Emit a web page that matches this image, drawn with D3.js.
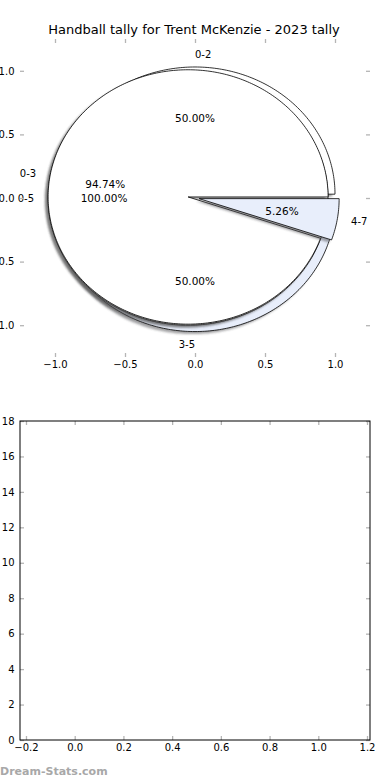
<!DOCTYPE html>
<html>
<head>
<meta charset="utf-8">
<script src="https://cdn.jsdelivr.net/npm/d3@7"></script>
<style>
  body { margin: 0; background: #fff; }
  svg { display: block; font-family: "DejaVu Sans", sans-serif; }
</style>
</head>
<body>
<svg id="chart" width="390" height="780"></svg>
<script>
const chartTitle = "Handball tally for Trent McKenzie - 2023 tally";

// three pies stacked on the same axes
const halfLabels = ["0-2", "3-5"];
const halfValues = [1, 1];
const halfExplode = [0.03, 0.05];

const allLabels = ["0-5"];
const allValues = [19];
const allExplode = [0.05];

const splitLabels = ["0-3", "4-7"];
const splitValues = [18, 1];
const splitExplode = [0.05, 0.03];

const sliceColors = ["#ffffff", "#e8eefb"];

const pieTicks = [-1, -0.5, 0, 0.5, 1];
const emptyXTicks = [-0.2, 0, 0.2, 0.4, 0.6, 0.8, 1.0, 1.2];
const emptyYTicks = [0, 2, 4, 6, 8, 10, 12, 14, 16, 18];

const svg = d3.select("#chart");
const fmt = d3.format(".1f");
const minus = s => s.replace("-", "\u2212");

svg.append("defs").append("filter")
   .attr("id", "soft")
   .attr("x", "-10%").attr("y", "-10%").attr("width", "120%").attr("height", "120%")
   .append("feGaussianBlur").attr("stdDeviation", 0.9);

// ---------- pie axes ----------
const x = d3.scaleLinear().domain([-1.25, 1.25]).range([20, 370]);
const y = d3.scaleLinear().domain([-1.25, 1.25]).range([357, 39]);

svg.append("text")
   .attr("x", 194).attr("y", 34)
   .attr("text-anchor", "middle")
   .attr("font-size", "13px")
   .text(chartTitle);

const line = d3.line().x(d => x(d[0])).y(d => y(d[1]));
const wedgeLayer = svg.append("g");
const textLayer = [];

function drawPie(values, labels, explode) {
  const total = d3.sum(values);
  let theta = 0;
  values.forEach((v, i) => {
    const t1 = theta, t2 = theta + 360 * v / total;
    theta = t2;
    const mid = (t1 + t2) / 2 * Math.PI / 180;
    const cx = explode[i] * Math.cos(mid), cy = explode[i] * Math.sin(mid);
    const full = t2 - t1 >= 359.999;
    const pts = full ? [] : [[cx, cy]];
    for (let a = t1; a <= t2 + 1e-9; a += 1) {
      const r = a * Math.PI / 180;
      pts.push([cx + Math.cos(r), cy + Math.sin(r)]);
    }
    if (!full) {
      const r = t2 * Math.PI / 180;
      pts.push([cx + Math.cos(r), cy + Math.sin(r)]);
    }
    const shadowPts = pts.map(p => [p[0] - 0.02, p[1] - 0.02]);
    const c = d3.rgb(sliceColors[i % sliceColors.length]);

    wedgeLayer.append("path")
      .attr("d", line(shadowPts) + "Z")
      .attr("fill", d3.rgb(c.r * 0.3, c.g * 0.3, c.b * 0.3))
      .attr("fill-opacity", 0.5)
      .attr("filter", "url(#soft)");
    wedgeLayer.append("path")
      .attr("d", line(pts) + "Z")
      .attr("fill", c)
      .attr("stroke", "#000")
      .attr("stroke-width", 0.8)
      .attr("stroke-linejoin", "round");

    const cosm = Math.cos(mid), sinm = Math.sin(mid);
    textLayer.push({
      x: cx + 1.1 * cosm, y: cy + 1.1 * sinm, size: 10,
      anchor: cosm > 0 ? "start" : "end", text: labels[i]
    });
    textLayer.push({
      x: cx + 0.6 * cosm, y: cy + 0.6 * sinm, size: 10.5,
      anchor: "middle", text: (100 * v / total).toFixed(2) + "%"
    });
  });
}

drawPie(halfValues, halfLabels, halfExplode);
drawPie(allValues, allLabels, allExplode);
drawPie(splitValues, splitLabels, splitExplode);

svg.append("g").selectAll("text")
   .data(textLayer)
   .enter().append("text")
   .attr("x", d => x(d.x))
   .attr("y", d => y(d.y))
   .attr("text-anchor", d => d.anchor)
   .attr("dominant-baseline", "central")
   .attr("font-size", d => d.size + "px")
   .text(d => d.text);

function styleAxis(g) {
  g.selectAll(".tick line").attr("stroke", "#b5b5b5").attr("stroke-width", 1.3);
  g.selectAll(".tick text").attr("font-size", "10px").attr("fill", "#000")
   .attr("font-family", "DejaVu Sans, sans-serif");
  g.select(".domain").remove();
}

function addAxes(xs, ys, xTicks, yTicks, xFmt, yFmt) {
  const [x0, x1] = xs.range();
  const [y0, y1] = ys.range();
  svg.append("g").attr("transform", `translate(0,${y0})`)
     .call(d3.axisBottom(xs).tickValues(xTicks).tickSize(-4).tickPadding(4).tickFormat(xFmt))
     .call(styleAxis);
  svg.append("g").attr("transform", `translate(0,${y1})`)
     .call(d3.axisTop(xs).tickValues(xTicks).tickSize(-4).tickFormat(""))
     .call(styleAxis);
  svg.append("g").attr("transform", `translate(${x0},0)`)
     .call(d3.axisLeft(ys).tickValues(yTicks).tickSize(-4).tickPadding(5.5).tickFormat(yFmt))
     .call(styleAxis);
  svg.append("g").attr("transform", `translate(${x1},0)`)
     .call(d3.axisRight(ys).tickValues(yTicks).tickSize(-4).tickFormat(""))
     .call(styleAxis);
}

addAxes(x, y, pieTicks, pieTicks, d => minus(fmt(d)), d => minus(fmt(d)));

// ---------- empty lower axes ----------
const bx = d3.scaleLinear().domain([-0.2246, 1.2123]).range([20, 370]);
const by = d3.scaleLinear().domain([0, 18]).range([740, 421]);

addAxes(bx, by, emptyXTicks, emptyYTicks, d => minus(fmt(d)), d => String(d));

svg.append("rect")
   .attr("x", bx.range()[0]).attr("y", by.range()[1])
   .attr("width", bx.range()[1] - bx.range()[0])
   .attr("height", by.range()[0] - by.range()[1])
   .attr("fill", "none")
   .attr("stroke", "#000")
   .attr("stroke-width", 1);

svg.append("text")
   .attr("x", 0).attr("y", 775)
   .attr("font-size", "11px")
   .attr("font-weight", "bold")
   .attr("fill", "#a8a8a8")
   .text("Dream-Stats.com");
</script>
</body>
</html>
